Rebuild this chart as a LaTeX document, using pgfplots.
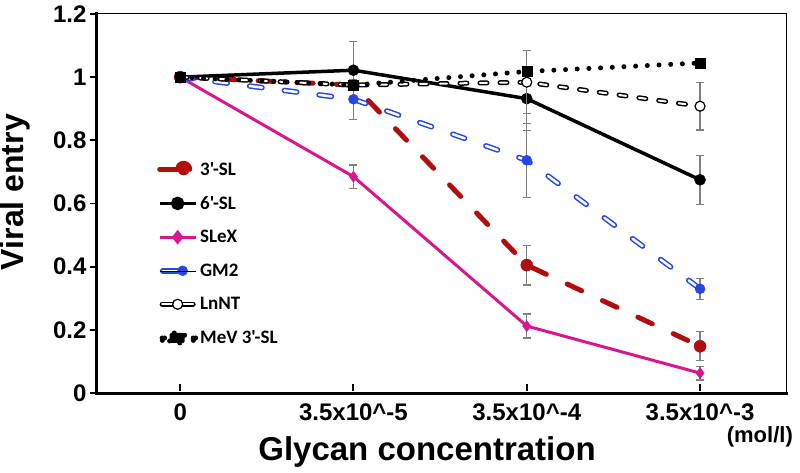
\documentclass[border=0pt]{standalone}
\usepackage{pgfplots}
\pgfplotsset{compat=1.18}
\usepackage{fontspec}
\setmainfont{Liberation Sans}
\newfontfamily\legfont{Carlito}
\definecolor{sldred}{RGB}{176,14,14}
\definecolor{slmag}{RGB}{214,24,140}
\definecolor{slblue}{RGB}{40,70,225}
\definecolor{ebgray}{RGB}{128,128,128}
\begin{document}
\begin{tikzpicture}
\begin{axis}[
  scale only axis, width=689bp, height=379bp,
  clip mode=individual,
  xmin=-0.48, xmax=3.496, ymin=0, ymax=1.2,
  xtick={0,1,2,3},
  xticklabels={0, 3.5x10\textasciicircum-5, 3.5x10\textasciicircum-4, 3.5x10\textasciicircum-3},
  ytick={0,0.2,0.4,0.6,0.8,1,1.2},
  /pgf/number format/assume math mode=true,
  tick pos=left, tick align=outside, major tick length=7bp,
  y tick style={line width=2pt, black},
  x tick style={line width=2pt, black, yshift=9bp},
  tick label style={font=\bfseries\fontsize{24bp}{24bp}\selectfont},
  axis line style={line width=1pt},
  xlabel={Glycan concentration}, ylabel={Viral entry},
  xlabel style={font=\bfseries\fontsize{33bp}{33bp}\selectfont, at={(axis description cs:0.479,-0.156)}, anchor=center},
  ylabel style={font=\bfseries\fontsize{32bp}{32bp}\selectfont, at={(axis description cs:-0.118,0.53)}, anchor=center},
  error bars/y dir=both, error bars/y explicit,
  error bars/error bar style={ebgray, line width=1.2pt, solid},
  error bars/error mark options={rotate=90, mark size=4bp, ebgray, line width=1.2pt, solid},
  legend style={at={(axis description cs:0.087,0.615)}, anchor=north west, draw=none, fill=none,
    font=\legfont\bfseries\fontsize{19bp}{19bp}\selectfont, row sep=15.6bp, inner sep=0pt,
    nodes={inner sep=2bp}},
  legend cell align=left,
]
% 3'-SL
\addplot[sldred, line width=5bp, line cap=round, dash pattern=on 16bp off 23bp,
  mark=*, mark size=6bp, mark options={solid, fill=sldred, draw=sldred, line width=0.5pt},
  legend image code/.code={
    \draw[solid, sldred, line width=5bp, line cap=round] (2.5bp,0bp) -- (20bp,0bp);
    \fill[sldred] (24bp,0bp) circle (6bp);
    \path (0bp,0bp) -- (36bp,0bp);
  }]
  coordinates {(0,1.0) +- (0,0) (1,0.975) +- (0,0) (2,0.405) +- (0,0.063) (3,0.148) +- (0,0.046)};
\addlegendentry{3'-SL}
% 6'-SL
\addplot[black, line width=3.5bp, mark=*, mark size=5.5bp, mark options={solid, fill=black, line width=0.5pt},
  legend image code/.code={
    \draw[solid, black, line width=3.5bp] (0bp,0bp) -- (36bp,0bp);
    \fill[black] (18bp,0bp) circle (5bp);
  }]
  coordinates {(0,1.0) +- (0,0) (1,1.022) +- (0,0.09) (2,0.932) +- (0,0.10) (3,0.675) +- (0,0.078)};
\addlegendentry{6'-SL}
% SLeX
\addplot[slmag, line width=3bp, mark=diamond*, mark size=5.5bp, mark options={solid, fill=slmag, draw=slmag, line width=0.5pt},
  legend image code/.code={
    \draw[solid, slmag, line width=3bp] (0bp,0bp) -- (36bp,0bp);
    \fill[slmag] (18bp,5bp) -- (22bp,0bp) -- (18bp,-5bp) -- (14bp,0bp) -- cycle;
  }]
  coordinates {(0,1.0) +- (0,0) (1,0.685) +- (0,0.037) (2,0.212) +- (0,0.038) (3,0.063) +- (0,0.022)};
\addlegendentry{SLeX}
% GM2 (outlined dashes)
\addplot[forget plot, no marks, slblue, line width=5.5bp, line cap=round, dash pattern=on 12.5bp off 22.5bp]
  coordinates {(0,1.0) (1,0.93) (2,0.737) (3,0.33)};
\addplot[forget plot, no marks, white, line width=2.5bp, line cap=round, dash pattern=on 12.5bp off 22.5bp]
  coordinates {(0,1.0) (1,0.93) (2,0.737) (3,0.33)};
\addplot[only marks, mark=*, mark size=5bp, mark options={fill=slblue, draw=slblue, line width=0.5pt},
  legend image code/.code={
    \draw[solid, slblue, line width=5.5bp, line cap=round] (3bp,0bp) -- (18bp,0bp);
    \draw[solid, white, line width=2.5bp, line cap=round] (3bp,0bp) -- (18bp,0bp);
    \fill[slblue] (23bp,0bp) circle (5bp);
    \path (0bp,0bp) -- (36bp,0bp);
  }]
  coordinates {(0,1.0) +- (0,0) (1,0.93) +- (0,0.063) (2,0.737) +- (0,0.117) (3,0.33) +- (0,0.033)};
\addlegendentry{GM2}
% LnNT (outlined dashes)
\addplot[forget plot, no marks, black, line width=5bp, line cap=round, dash pattern=on 7bp off 13bp]
  coordinates {(0,1.0) (1,0.975) (2,0.984) (3,0.908)};
\addplot[forget plot, no marks, white, line width=2bp, line cap=round, dash pattern=on 7bp off 13bp]
  coordinates {(0,1.0) (1,0.975) (2,0.984) (3,0.908)};
\addplot[only marks, mark=*, mark size=5bp, mark options={fill=white, draw=black, line width=1.2pt},
  legend image code/.code={
    \draw[solid, black, line width=5bp, line cap=round] (2.5bp,0bp) -- (33.5bp,0bp);
    \draw[solid, white, line width=2bp, line cap=round] (2.5bp,0bp) -- (33.5bp,0bp);
    \filldraw[solid, fill=white, draw=black, line width=1.2pt] (18bp,0bp) circle (5bp);
  }]
  coordinates {(0,1.0) +- (0,0) (1,0.975) +- (0,0) (2,0.984) +- (0,0.1) (3,0.908) +- (0,0.075)};
\addlegendentry{LnNT}
% MeV 3'-SL
\addplot[black, line width=5bp, line cap=round, dash pattern=on 0bp off 11.7bp,
  mark=square*, mark size=5bp, mark options={solid, fill=black, line width=0.5pt},
  legend image code/.code={
    \fill[black] (2.5bp,0bp) circle (2.5bp);
    \fill[black] (33.5bp,0bp) circle (2.5bp);
    \fill[black, rounded corners=2bp] (10bp,-5bp) rectangle (25bp,5bp);
  }]
  coordinates {(0,1.0) (1,0.975) (2,1.018) (3,1.045)};
\addlegendentry{MeV 3'-SL}
\draw[line width=3bp, line cap=rect] (rel axis cs:0,1) -- (rel axis cs:0,0) -- (rel axis cs:1,0);
\node[font=\bfseries\fontsize{22bp}{22bp}\selectfont, anchor=center] at (rel axis cs:0.962,-0.116) {(mol/l)};
\end{axis}
\pgfresetboundingbox
\path (-97bp,-80bp) rectangle (703bp,393bp);
\end{tikzpicture}
\end{document}
